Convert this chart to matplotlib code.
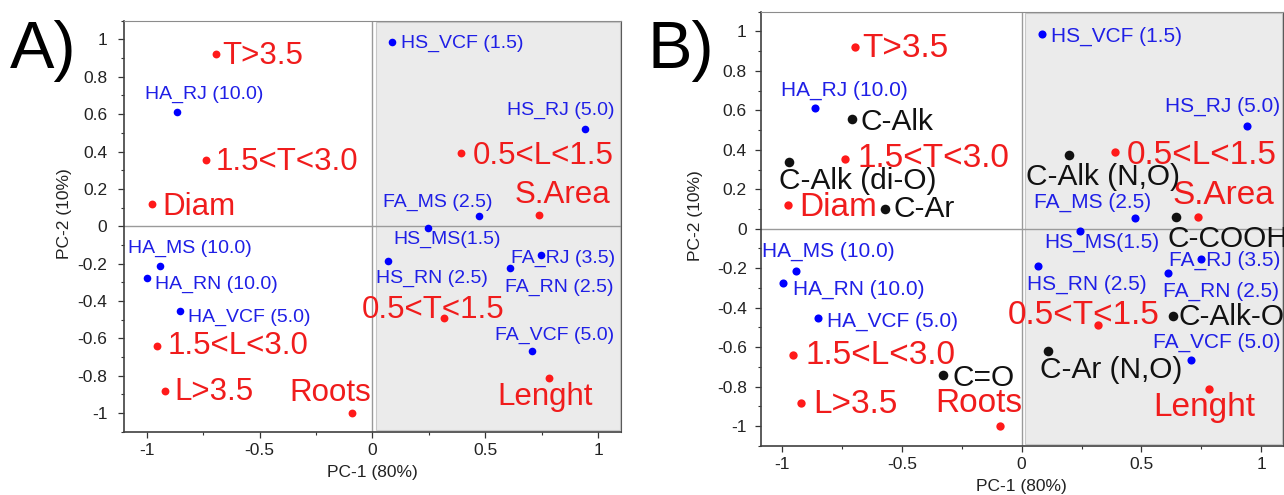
import numpy as np
import matplotlib
matplotlib.use('Agg')
import matplotlib.pyplot as plt
from matplotlib.ticker import MultipleLocator, FuncFormatter

plt.rcParams['font.family'] = ['Liberation Sans', 'DejaVu Sans']
plt.rcParams['axes.unicode_minus'] = False

# samples (scores)
blue_names = ['HS_VCF (1.5)', 'HA_RJ (10.0)', 'HS_RJ (5.0)', 'FA_MS (2.5)', 'HS_MS(1.5)', 'HA_MS (10.0)',
              'HA_RN (10.0)', 'HA_VCF (5.0)', 'HS_RN (2.5)', 'FA_RJ (3.5)', 'FA_RN (2.5)', 'FA_VCF (5.0)']
blue_pc1 = [0.085, -0.865, 0.94, 0.473, 0.245, -0.942, -0.997, -0.851, 0.07, 0.748, 0.61, 0.705]
blue_pc2 = [0.985, 0.61, 0.52, 0.054, -0.01, -0.212, -0.276, -0.452, -0.188, -0.156, -0.225, -0.667]

# root traits (loadings)
red_names = ['T>3.5', '1.5<T<3.0', 'Diam', '0.5<L<1.5', 'S.Area', '0.5<T<1.5', '1.5<L<3.0', 'L>3.5', 'Roots', 'Lenght']
red_pc1 = [-0.695, -0.737, -0.975, 0.39, 0.738, 0.318, -0.953, -0.92, -0.09, 0.781]
red_pc2 = [0.92, 0.355, 0.121, 0.39, 0.058, -0.489, -0.641, -0.884, -0.998, -0.813]

# carbon types (loadings, panel B only)
black_names = ['C-Alk', 'C-Alk (di-O)', 'C-Ar', 'C-Alk (N,O)', 'C-COOH', 'C-Alk-O', 'C-Ar (N,O)', 'C=O']
black_pc1 = [-0.707, -0.97, -0.57, 0.196, 0.644, 0.63, 0.109, -0.328]
black_pc2 = [0.556, 0.34, 0.099, 0.372, 0.058, -0.445, -0.622, -0.74]

# label offsets in pixels (right, down) from each point
off_blue_a = [(9, 6), (-32, -13), (-78, -14), (-96, -9), (-34, 16), (-32, -13),
              (8, 11), (8, 11), (-12, 21), (-30, 7), (-5, 24), (-37, -11)]
off_red_a = [(7, 10), (10, 10), (10, 11), (12, 11), (-25, -12), (-83, 0),
             (10, 8), (10, 9), (-63, -12), (-52, 27)]

off_blue_b = [(9, 7), (-34, -13), (-82, -14), (-101, -10), (-36, 17), (-34, -14),
              (10, 12), (9, 9), (-11, 24), (-32, 6), (-5, 24), (-38, -13)]
off_red_b = [(7, 10), (12, 8), (11, 11), (12, 12), (-26, -13), (-90, -1),
             (12, 9), (12, 10), (-65, -14), (-55, 27)]
off_black_b = [(8, 11), (-10, 27), (8, 8), (-43, 30), (-8, 30), (6, 9), (-8, 27), (9, 11)]

BLUE = '#0000ff'
RED = '#ff1a1a'
BLACK = '#111111'


def draw_group(ax, xs, ys, names, offsets, color, txtcolor, fsize, msize):
    ax.scatter(xs, ys, s=msize, color=color, zorder=4, linewidths=0)
    for x, y, n, (dx, dy) in zip(xs, ys, names, offsets):
        ax.annotate(n, (x, y), xytext=(dx, -dy), textcoords='offset pixels',
                    ha='left', va='baseline', fontsize=fsize, color=txtcolor, zorder=5)


def setup_axes(ax, xlim, ypad, ylab_x):
    ax.set_xlim(-xlim, xlim)
    ax.set_ylim(-1.1, 1.1)
    # shaded right half
    ax.axvspan(0.015, xlim - 0.005, ymin=0.003, ymax=0.997, facecolor='#ebebeb',
               edgecolor='#c8c8c8', lw=0.8, zorder=0)
    ax.axhline(0, color='#9a9a9a', lw=1.0, zorder=1)
    ax.axvline(0, color='#9a9a9a', lw=1.0, zorder=1)

    ax.xaxis.set_major_locator(MultipleLocator(0.5))
    ax.xaxis.set_minor_locator(MultipleLocator(0.25))
    ax.yaxis.set_major_locator(MultipleLocator(0.2))
    ax.yaxis.set_minor_locator(MultipleLocator(0.1))
    fmt = FuncFormatter(lambda v, p: '%g' % round(v, 2) if abs(v) > 1e-9 else '0')
    ax.xaxis.set_major_formatter(fmt)
    ax.yaxis.set_major_formatter(fmt)
    ax.tick_params(which='major', direction='out', length=4, width=0.9, labelsize=12.5,
                   colors='#333333', labelcolor='#222222', pad=4)
    ax.tick_params(axis='y', which='major', pad=ypad)
    ax.tick_params(which='minor', direction='out', length=2.5, width=0.8, colors='#333333')
    for s in ['left', 'bottom']:
        ax.spines[s].set_color('#404040')
        ax.spines[s].set_linewidth(1.2)
    ax.spines['top'].set_color('#8c8c8c')
    ax.spines['right'].set_color('#5a5a5a')
    ax.set_xlabel('PC-1 (80%)', fontsize=12.5, color='#222222', labelpad=5)
    ax.set_ylabel('PC-2 (10%)', fontsize=12.5, color='#222222')
    ax.yaxis.set_label_coords(ylab_x, 0.53)


fig = plt.figure(figsize=(12.84, 4.95), dpi=100)
ax1 = fig.add_axes([0.0966, 0.128, 0.387, 0.830])
ax2 = fig.add_axes([0.5924, 0.0996, 0.4066, 0.8768])

# A) samples + root traits
setup_axes(ax1, 1.1, 8, -0.105)
draw_group(ax1, blue_pc1, blue_pc2, blue_names, off_blue_a, BLUE, '#1f1fe6', 14, 30)
draw_group(ax1, red_pc1, red_pc2, red_names, off_red_a, RED, '#f01c1c', 22.5, 32)

# B) same plus carbon types
setup_axes(ax2, 1.09, 6, -0.11)
draw_group(ax2, blue_pc1, blue_pc2, blue_names, off_blue_b, BLUE, '#1f1fe6', 15, 34)
draw_group(ax2, red_pc1, red_pc2, red_names, off_red_b, RED, '#f01c1c', 24, 36)
draw_group(ax2, black_pc1, black_pc2, black_names, off_black_b, BLACK, BLACK, 21.5, 48)

fig.text(10 / 1284, 1 - 68 / 495, 'A)', fontsize=48, color='black', ha='left', va='baseline')
fig.text(648 / 1284, 1 - 68 / 495, 'B)', fontsize=48, color='black', ha='left', va='baseline')

plt.savefig('out.png', dpi=100)
